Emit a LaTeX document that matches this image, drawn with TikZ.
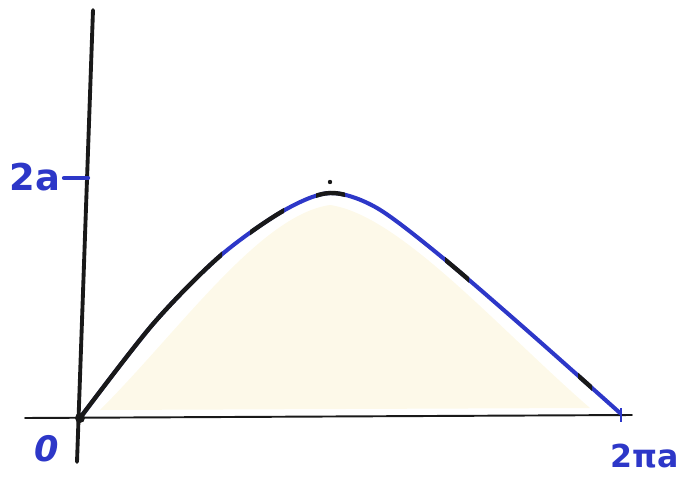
\documentclass[tikz,border=0pt]{standalone}
\usepackage{fontspec}
\setmainfont{DejaVu Sans}
\usetikzlibrary{calc}
\definecolor{pen}{RGB}{45,55,200}
\definecolor{ink}{RGB}{25,25,25}
\definecolor{wash}{RGB}{251,245,218}
\newcommand{\cyccurve}{plot[smooth,tension=0.5] coordinates {(80,418) (153,324) (220,256) (283,211) (330,193) (377,208) (443,258) (530,333) (620,413)}}
\tikzset{
  lbl/.style={text=pen,font=\fontsize{21}{23}\selectfont\bfseries,inner sep=0pt},
  axisline/.style={draw=ink,line cap=round},
  curveline/.style={draw=pen,line width=2.3pt,line cap=round},
  inkline/.style={draw=ink,line width=2.5pt}
}
\begin{document}
\begin{tikzpicture}[x=0.02cm,y=-0.02cm]
\useasboundingbox (0,0) rectangle (687,490);
% faint wash under the curve
\fill[wash,opacity=0.6] (100,410) .. controls (180,330) and (260,215) .. (330,205)
  .. controls (400,215) and (500,330) .. (590,408) -- cycle;
% axes
\coordinate (ytop) at (93,10);
\coordinate (ybot) at (77,462);
\coordinate (xl) at (25,418);
\coordinate (xr) at (632,415);
\coordinate (o) at (80,418);
\draw[axisline,line width=2.2pt] (ybot) -- (ytop);
\draw[axisline,line width=1.1pt] (xl) -- (xr);
% curve
\draw[curveline] \cyccurve;
\begin{scope}
  \clip (70,230) rectangle (222,430);
  \draw[inkline] \cyccurve;
\end{scope}
\begin{scope}
  \clip (250,200) rectangle (284,250);
  \draw[inkline] \cyccurve;
\end{scope}
\begin{scope}
  \clip (316,180) rectangle (345,210);
  \draw[inkline] \cyccurve;
\end{scope}
\begin{scope}
  \clip (445,240) rectangle (469,290);
  \draw[inkline] \cyccurve;
\end{scope}
\begin{scope}
  \clip (578,360) rectangle (592,395);
  \draw[inkline] \cyccurve;
\end{scope}
% origin dot and peak dot
\fill[ink] (o) circle (5);
\coordinate (peakdot) at (330,182);
\fill[ink] (peakdot) circle (2.2);
% ticks
\coordinate (t2a) at (88,178);
\coordinate (t2al) at (64,178);
\draw[pen,line width=2.4pt,line cap=round] (t2al) -- (t2a);
\coordinate (tx) at (621,415);
\draw[pen,line width=1pt] ($(tx)+(0,-7)$) -- ($(tx)+(0,7)$);
% labels
\node[lbl] (l2a) at (35,177) {2a};
\node[lbl,font=\fontsize{20}{22}\selectfont\bfseries\itshape] (l0) at (47,449) {0};
\node[lbl,font=\fontsize{18}{20}\selectfont\bfseries] (l2pa) at (645,456) {2πa};
\end{tikzpicture}
\end{document}
